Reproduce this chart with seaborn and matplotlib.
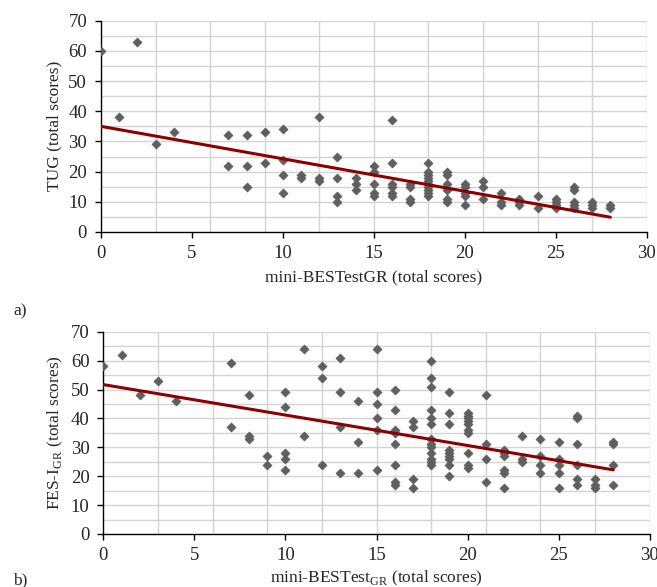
import numpy as np
import pandas as pd
import seaborn as sns
from matplotlib import pyplot as plt

sns.set_theme(style="white")
plt.rcParams['font.family'] = ['Liberation Serif', 'DejaVu Serif']
plt.rcParams['mathtext.fontset'] = 'custom'
plt.rcParams['mathtext.rm'] = 'Liberation Serif'

# panel a) mini-BESTest vs TUG
tug_x = [0, 2, 1, 3, 4, 7, 7, 8, 8, 8, 9, 9, 10, 10, 10, 10, 11, 11, 12, 12, 12,
         13, 13, 13, 13, 14, 14, 14,
         15, 15, 15, 15, 15, 16, 16, 16, 16, 16, 16, 17, 17, 17, 17,
         18, 18, 18, 18, 18, 18, 18, 18, 18, 18, 19, 19, 19, 19, 19, 19,
         20, 20, 20, 20, 20, 21, 21, 21, 22, 22, 22, 23, 23, 23, 24, 24,
         25, 25, 25, 25, 26, 26, 26, 26, 26, 27, 27, 27, 28, 28]
tug_y = [60, 63, 38, 29, 33, 32, 22, 32, 22, 15, 33, 23, 34, 24, 19, 13, 19, 18, 38, 18, 17,
         25, 18, 12, 10, 18, 16, 14,
         22, 20, 16, 13, 12, 37, 23, 16, 15, 13, 12, 16, 15, 11, 10,
         23, 20, 19, 18, 17, 16, 15, 14, 13, 12, 20, 19, 16, 14, 11, 10,
         16, 15, 13, 12, 9, 17, 15, 11, 13, 10, 9, 11, 10, 9, 12, 8,
         11, 10, 9, 8, 15, 14, 10, 9, 8, 10, 9, 8, 9, 8]
tug_fit_x = [0, 28]
tug_fit_y = [35.0, 4.9]

# panel b) mini-BESTest vs FES-I
fes_x = [0, 1, 2, 3, 4, 7, 7, 8, 8, 8, 9, 9, 10, 10, 10, 10, 10, 11, 11, 12, 12, 12,
         13, 13, 13, 13, 14, 14, 14,
         15, 15, 15, 15, 15, 15, 16, 16, 16, 16, 16, 16, 16, 16, 17, 17, 17, 17,
         18, 18, 18, 18, 18, 18, 18, 18, 18, 18, 18, 18, 18,
         19, 19, 19, 19, 19, 19, 19, 19, 19,
         20, 20, 20, 20, 20, 20, 20, 20, 20, 20,
         21, 21, 21, 21, 22, 22, 22, 22, 22, 22, 23, 23, 23, 24, 24, 24, 24,
         25, 25, 25, 25, 25, 26, 26, 26, 26, 26, 26, 27, 27, 27, 28, 28, 28, 28]
fes_y = [58, 62, 48, 53, 46, 59, 37, 48, 34, 33, 27, 24, 49, 44, 28, 26, 22, 64, 34, 58, 54, 24,
         61, 49, 37, 21, 46, 32, 21,
         64, 49, 45, 40, 36, 22, 50, 43, 36, 35, 31, 24, 18, 17, 39, 37, 19, 16,
         60, 54, 51, 43, 40, 38, 33, 31, 30, 28, 26, 25, 24,
         49, 42, 38, 29, 28, 27, 26, 24, 20,
         42, 41, 40, 39, 38, 36, 35, 28, 24, 23,
         48, 31, 26, 18, 29, 28, 27, 22, 21, 16, 34, 26, 25, 33, 27, 24, 21,
         32, 26, 24, 21, 16, 41, 40, 31, 24, 19, 17, 19, 17, 16, 32, 31, 24, 17]
fes_fit_x = [0, 28]
fes_fit_y = [51.7, 22.2]

df_tug = pd.DataFrame({"x": tug_x, "y": tug_y})
df_fes = pd.DataFrame({"x": fes_x, "y": fes_y})
fit_tug = pd.DataFrame({"x": tug_fit_x, "y": tug_fit_y})
fit_fes = pd.DataFrame({"x": fes_fit_x, "y": fes_fit_y})

fig = plt.figure(figsize=(6.57, 5.87), dpi=100)
ax1 = fig.add_axes([101 / 657, 1 - 232 / 587, 545.7 / 657, 211.3 / 587])
ax2 = fig.add_axes([103.3 / 657, 1 - 534 / 587, 546.4 / 657, 202.3 / 587])

grid_col = "#d4d4d4"
for ax, df, fit, ylab, xlab, xpad in [
        (ax1, df_tug, fit_tug, "TUG (total scores)", "mini-BESTestGR (total scores)", 6),
        (ax2, df_fes, fit_fes, r"FES-I$_{\mathrm{GR}}$ (total scores)",
         r"mini-BESTest$_{\mathrm{GR}}$ (total scores)", 4)]:
    ax.set_xlim(0, 30)
    ax.set_ylim(0, 70)
    for gx in range(3, 31, 3):
        ax.axvline(gx, color=grid_col, lw=1, zorder=0)
    for gy in range(5, 71, 5):
        ax.axhline(gy, color=grid_col, lw=1, zorder=0)
    sns.scatterplot(data=df, x="x", y="y", ax=ax, marker="D", s=22,
                    color="#5f5f5f", edgecolor="#5f5f5f", linewidth=0.4, zorder=3)
    sns.lineplot(data=fit, x="x", y="y", ax=ax, color="#8b0000", lw=2.2, zorder=4)
    ax.set_xticks(range(0, 31, 5))
    ax.set_yticks(range(0, 71, 10))
    for s in ["top", "right"]:
        ax.spines[s].set_visible(False)
    for s in ["left", "bottom"]:
        ax.spines[s].set_color("black")
        ax.spines[s].set_linewidth(1.0)
    ax.tick_params(axis="both", which="major", direction="out", length=4, width=1,
                   color="black", labelsize=13.5, pad=5, left=True, bottom=True)
    ax.tick_params(axis="y", pad=6)
    ax.set_xlabel(xlab, fontsize=12.5, labelpad=xpad)
    ax.set_ylabel(ylab, fontsize=12.5, labelpad=4)

fig.text(13 / 657, 1 - 311 / 587, "a)", fontsize=12.5, ha="left", va="center")
fig.text(13 / 657, 1 - 580 / 587, "b)", fontsize=12.5, ha="left", va="center")

fig.savefig("out.png", dpi=100)
